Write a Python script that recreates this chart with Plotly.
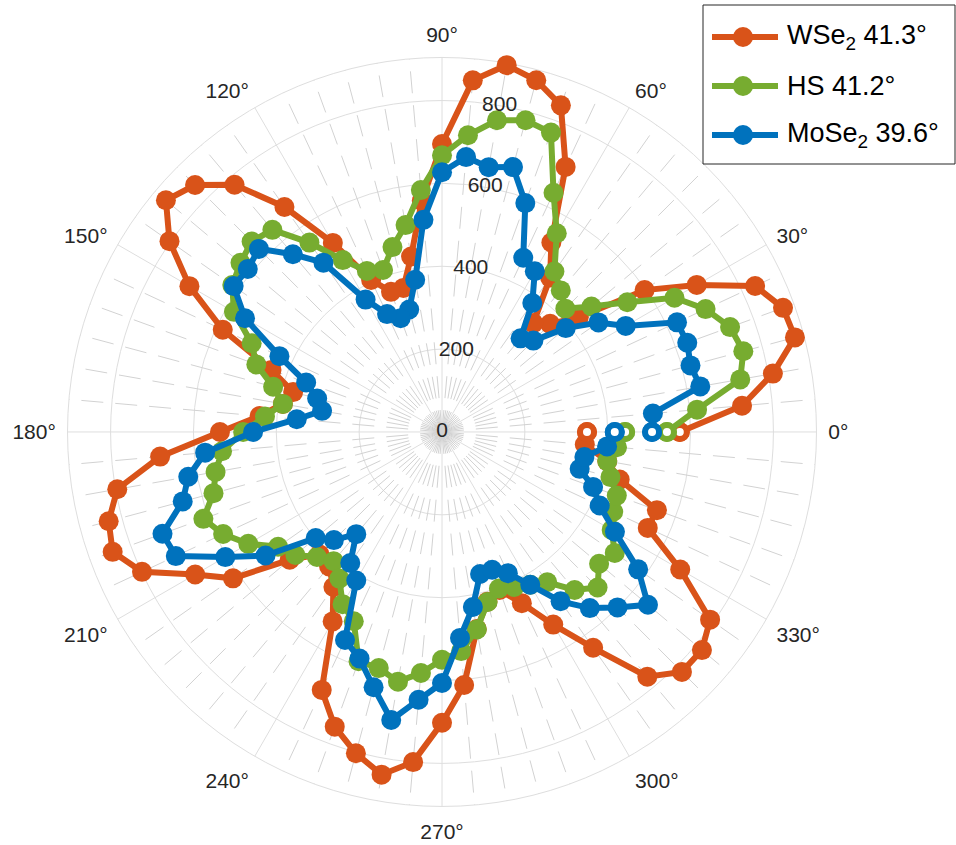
import plotly.graph_objects as go

# Polar angle of each sample, degrees (0 and 360 are both recorded)
theta = list(range(0, 365, 5))

# SHG intensity vs. polarisation angle for each sample
wse2 = [574, 727, 811, 882, 876, 834, 710, 597, 431, 369, 343, 455,
        528, 706, 839, 879, 899, 852, 695, 560, 430, 360, 360, 405,
        527, 663, 779, 843, 870, 803, 704, 584, 438, 372, 390, 442,
        536, 683, 796, 833, 846, 799, 688, 616, 480, 418, 424, 457,
        528, 687, 757, 803, 840, 800, 702, 613, 483, 424, 406, 456,
        537, 636, 771, 819, 819, 790, 664, 548, 552, 444, 405, 346,
        350]
hs = [543, 618, 731, 753, 740, 702, 648, 546, 471, 421, 446, 473,
      554, 637, 769, 779, 764, 719, 668, 586, 507, 462, 416, 429,
      479, 558, 637, 650, 635, 618, 580, 507, 477, 422, 390, 429,
      480, 533, 555, 571, 613, 583, 540, 483, 462, 427, 407, 432,
      480, 504, 589, 590, 612, 584, 550, 531, 484, 425, 402, 413,
      426, 443, 498, 531, 495, 509, 473, 456, 449, 421, 405, 424,
      442]
mose2 = [507, 511, 633, 621, 630, 626, 512, 461, 390, 312, 295, 380,
         448, 464, 588, 662, 649, 666, 627, 514, 373, 306, 292, 314,
         369, 499, 560, 625, 612, 614, 549, 433, 349, 312, 294, 352,
         456, 574, 622, 648, 718, 709, 604, 520, 398, 369, 322, 386,
         414, 554, 582, 638, 706, 649, 606, 499, 429, 355, 354, 376,
         426, 499, 555, 599, 649, 578, 482, 420, 388, 344, 349, 400,
         417]

series_names = ["WSe<sub>2</sub> 41.3°", "HS 41.2°", "MoSe<sub>2</sub> 39.6°"]
series_values = [wse2, hs, mose2]
series_colors = ["#D95319", "#77AC30", "#0072BD"]

r_ticks = [0, 200, 400, 600, 800]
theta_ticks = list(range(0, 360, 30))
theta_labels = [f"{t}°" for t in theta_ticks]

R_MAX = 904
GRID = "#dedede"
MINOR = "#d2d2d2"
TEXT = "#262626"
FONT = "Liberation Sans, Arial, sans-serif"

fig = go.Figure()

# dotted minor spokes every 5 degrees
minor_r, minor_t = [], []
for t in range(5, 360, 5):
    if t % 30:
        minor_r += [0, R_MAX, None]
        minor_t += [t, t, None]
fig.add_trace(go.Scatterpolar(
    r=minor_r, theta=minor_t, mode="lines",
    line=dict(color=MINOR, width=1, dash="22px,12px"),
    hoverinfo="skip", showlegend=False, connectgaps=False))

for name, vals, col in zip(series_names, series_values, series_colors):
    fig.add_trace(go.Scatterpolar(
        r=vals, theta=theta, mode="lines+markers", name=name,
        line=dict(color=col, width=6),
        marker=dict(size=20, color=col),
        showlegend=False))
    # start/end samples drawn open
    fig.add_trace(go.Scatterpolar(
        r=[vals[0], vals[-1]], theta=[theta[0], theta[-1]], mode="markers",
        marker=dict(size=14, color="white", line=dict(color=col, width=6)),
        hoverinfo="skip", showlegend=False))

# radial tick labels along the 80 degree line
fig.add_trace(go.Scatterpolar(
    r=r_ticks, theta=[80] * len(r_ticks), mode="text",
    text=[str(v) for v in r_ticks], textposition="middle center",
    textfont=dict(size=21, color=TEXT, family=FONT),
    hoverinfo="skip", showlegend=False))

fig.update_layout(
    width=956, height=845,
    margin=dict(l=0, r=0, t=0, b=0),
    paper_bgcolor="white",
    font=dict(family=FONT, color=TEXT),
    polar=dict(
        domain=dict(x=[0.0706, 0.8541], y=[0.0456, 0.9320]),
        bgcolor="white",
        radialaxis=dict(range=[0, R_MAX], tickvals=r_ticks,
                        showticklabels=False, ticks="",
                        showline=False, gridcolor=GRID, gridwidth=1,
                        layer="below traces"),
        angularaxis=dict(tickmode="array", tickvals=theta_ticks,
                         ticktext=theta_labels, direction="counterclockwise",
                         rotation=0, ticks="outside", ticklen=7,
                         tickcolor="rgba(0,0,0,0)", showline=True,
                         linecolor=GRID, linewidth=1, gridcolor=GRID,
                         gridwidth=1, layer="below traces",
                         tickfont=dict(size=21, color=TEXT, family=FONT)),
    ),
)

# legend box
fig.add_shape(type="rect", xref="paper", yref="paper",
              x0=703 / 956, x1=955 / 956, y0=1 - 164 / 845, y1=1 - 5 / 845,
              line=dict(color=TEXT, width=1), fillcolor="white", layer="above")
row_y = [37, 86, 135]
for name, col, yy in zip(series_names, series_colors, row_y):
    yp = 1 - yy / 845
    fig.add_shape(type="line", xref="paper", yref="paper",
                  x0=712 / 956, x1=778 / 956, y0=yp, y1=yp,
                  line=dict(color=col, width=6), layer="above")
    fig.add_shape(type="circle", xref="paper", yref="paper",
                  x0=733 / 956, x1=753 / 956, y0=yp - 10 / 845, y1=yp + 10 / 845,
                  line=dict(color=col, width=0), fillcolor=col, layer="above")
    fig.add_annotation(x=785 / 956, y=yp, xref="paper", yref="paper",
                       text=name, showarrow=False, xanchor="left",
                       yanchor="middle", font=dict(size=27, color="black",
                                                   family=FONT))

fig.write_html("out.html")
